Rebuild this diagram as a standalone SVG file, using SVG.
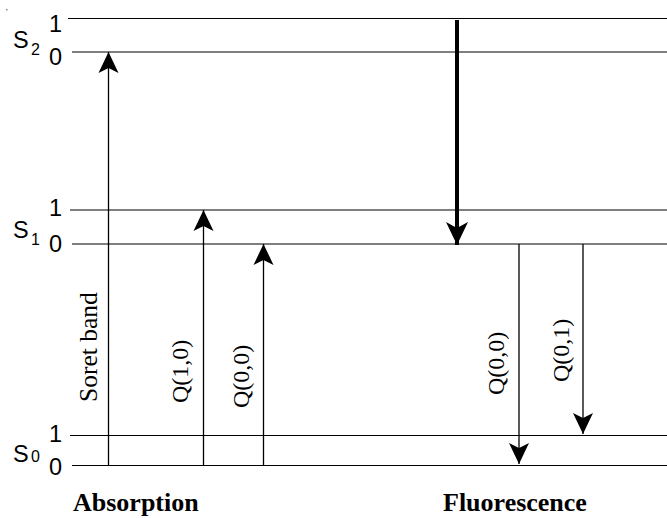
<svg xmlns="http://www.w3.org/2000/svg" width="667" height="518" viewBox="0 0 667 518">
<defs>
<style>
.lvl{stroke:#000;stroke-width:1.2;fill:none}
.arr{stroke:#000;stroke-width:1.3;fill:none}
.num{font-family:"Liberation Sans",Arial,sans-serif;font-size:23.5px;fill:#000}
.sub{font-family:"Liberation Sans",Arial,sans-serif;font-size:16px;fill:#000}
.lab{font-family:"Liberation Serif","Times New Roman",serif;font-size:24px;fill:#000}
.ttl{font-family:"Liberation Serif","Times New Roman",serif;font-size:26px;font-weight:bold;fill:#000}
</style>
<marker id="ah" markerUnits="userSpaceOnUse" markerWidth="24" markerHeight="24" viewBox="-22 -12 24 24" refX="0" refY="0" orient="auto">
<path d="M0,0 L-21,-10 L-16,0 L-21,10 Z" fill="#000"/>
</marker>
<marker id="ahb" markerUnits="userSpaceOnUse" markerWidth="26" markerHeight="26" viewBox="-24 -13 26 26" refX="0" refY="0" orient="auto">
<path d="M0,0 L-23,-11 L-17,0 L-23,11 Z" fill="#000"/>
</marker>
</defs>
<rect x="6" y="9" width="1.5" height="1.5" fill="#888"/>
<g id="levels">
<line class="lvl" x1="68" y1="18.5" x2="667" y2="18.5"/>
<line class="lvl" x1="72" y1="52" x2="667" y2="52"/>
<line class="lvl" x1="70" y1="210" x2="667" y2="210"/>
<line class="lvl" x1="72" y1="244" x2="667" y2="244"/>
<line class="lvl" x1="70" y1="435.5" x2="667" y2="435.5"/>
<line class="lvl" x1="72" y1="465.5" x2="667" y2="465.5"/>
</g>
<g id="S2">
<text class="num" x="13" y="48">S</text><text class="sub" x="31" y="55">2</text>
<text class="num" x="62" y="32" text-anchor="end">1</text>
<text class="num" x="62" y="65" text-anchor="end">0</text>
</g>
<g id="S1">
<text class="num" x="13" y="238">S</text><text class="sub" x="31" y="245">1</text>
<text class="num" x="62" y="216" text-anchor="end">1</text>
<text class="num" x="62" y="252" text-anchor="end">0</text>
</g>
<g id="S0">
<text class="num" x="13" y="462">S</text><text class="sub" x="31" y="462">0</text>
<text class="num" x="62" y="442" text-anchor="end">1</text>
<text class="num" x="62" y="475" text-anchor="end">0</text>
</g>
<g id="connectors">
<line class="arr" x1="108.5" y1="465.5" x2="108.5" y2="52" marker-end="url(#ah)"/>
<line class="arr" x1="203.5" y1="465.5" x2="203.5" y2="210" marker-end="url(#ah)"/>
<line class="arr" x1="263.5" y1="465.5" x2="263.5" y2="244" marker-end="url(#ah)"/>
<line x1="457" y1="20" x2="457" y2="245" stroke="#000" stroke-width="4" marker-end="url(#ahb)"/>
<line class="arr" x1="519" y1="244" x2="519" y2="464" marker-end="url(#ah)"/>
<line class="arr" x1="583" y1="244" x2="583" y2="434" marker-end="url(#ah)"/>
</g>
<g id="labels">
<text class="lab" style="font-size:25.5px" transform="translate(97,402) rotate(-90)">Soret band</text>
<text class="lab" transform="translate(188,403) rotate(-90)">Q(1,0)</text>
<text class="lab" transform="translate(249,408) rotate(-90)">Q(0,0)</text>
<text class="lab" transform="translate(504,395) rotate(-90)">Q(0,0)</text>
<text class="lab" transform="translate(569,382) rotate(-90)">Q(0,1)</text>
</g>
<g id="titles">
<text class="ttl" x="73" y="511">Absorption</text>
<text class="ttl" x="443" y="511">Fluorescence</text>
</g>
</svg>
